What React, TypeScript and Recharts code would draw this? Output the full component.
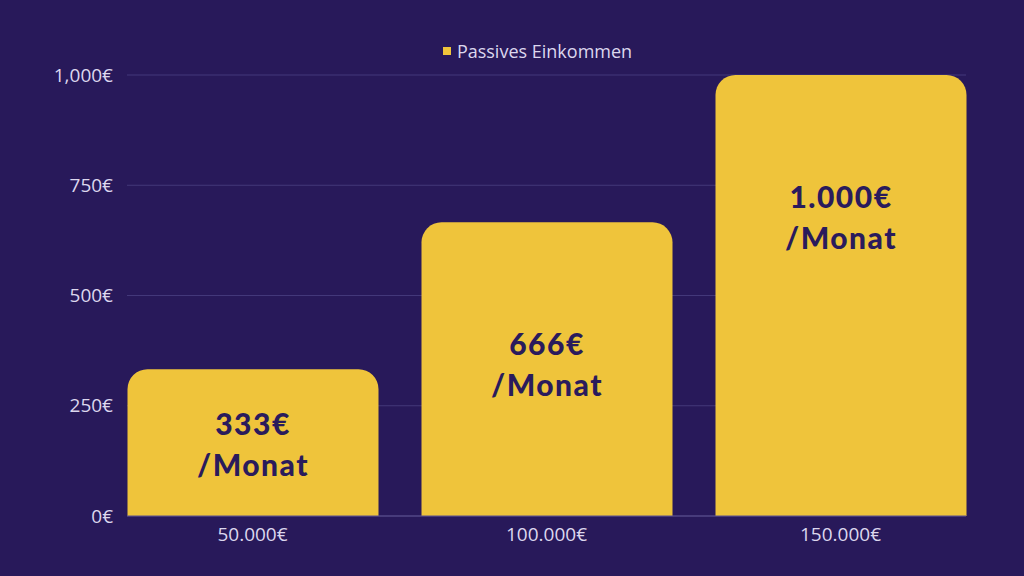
import { Bar, BarChart, CartesianGrid, Legend, XAxis, YAxis } from "recharts";

const categories = ["50.000€", "100.000€", "150.000€"];
const incomeValues = [333, 666, 1000];
const yTicks = [0, 250, 500, 750, 1000];
const seriesName = "Passives Einkommen";
const perMonthText = "/Monat";

const BG = "#28195a";
const BAR = "#efc43b";
const INK = "#2a1b5c";
const AXIS_TEXT = "#dcd7ee";

const chartData = categories.map((label, i) => ({ label, valor: incomeValues[i] }));

const formatY = (value: number) => `${new Intl.NumberFormat("en-US").format(value)}€`;
const formatBar = (value: number) => `${new Intl.NumberFormat("de-DE").format(value)}€`;

function BarValueLabel(props: any) {
    const { x, y, width, height, value } = props;
    const cx = Number(x) + Number(width) / 2;
    const cy = Math.min(Number(y) + Number(height) / 2, Number(y) + 141);
    const style = { fontFamily: "Lato, sans-serif", fontWeight: 900, fontSize: 30, letterSpacing: 1.5, fill: INK };
    return (
        <g>
            <text x={cx} y={cy - 20} textAnchor="middle" dominantBaseline="central" style={style}>
                {formatBar(Number(value))}
            </text>
            <text x={cx} y={cy + 21} textAnchor="middle" dominantBaseline="central" style={style}>
                {perMonthText}
            </text>
        </g>
    );
}

function LegendContent() {
    return (
        <div
            style={{
                height: 32,
                display: "flex",
                alignItems: "center",
                justifyContent: "center",
                gap: 6,
                fontFamily: "'Open Sans', sans-serif",
                fontSize: 18,
                color: AXIS_TEXT,
                paddingLeft: 100,
            }}
        >
            <span style={{ width: 8, height: 8, background: BAR, display: "inline-block" }} />
            <span>{seriesName}</span>
        </div>
    );
}

export default function App() {
    return (
        <div style={{ position: "absolute", left: 0, top: 0, width: 1024, height: 576, background: BG }}>
            <BarChart width={1024} height={576} data={chartData} margin={{ top: 35, right: 58, left: 9, bottom: 30 }}>
                <CartesianGrid vertical={false} stroke="#43387a" strokeWidth={1} />
                <Legend verticalAlign="top" align="center" height={40} content={<LegendContent />} />
                <XAxis
                    dataKey="label"
                    axisLine={{ stroke: "#5a4f8c" }}
                    tickLine={false}
                    tickSize={0}
                    tickMargin={12}
                    height={30}
                    padding={{ left: -21.5, right: -21.5 }}
                    tick={{ fill: AXIS_TEXT, fontSize: 19, fontFamily: "'Open Sans', sans-serif" }}
                />
                <YAxis
                    domain={[0, 1000]}
                    ticks={yTicks}
                    width={118}
                    axisLine={false}
                    tickLine={false}
                    tickSize={0}
                    tickMargin={14}
                    tickFormatter={(v) => formatY(Number(v))}
                    tick={{ fill: AXIS_TEXT, fontSize: 19, fontFamily: "'Open Sans', sans-serif" }}
                />
                <Bar
                    dataKey="valor"
                    name={seriesName}
                    fill={BAR}
                    barSize={251}
                    radius={[20, 20, 0, 0]}
                    isAnimationActive={false}
                    label={<BarValueLabel />}
                />
            </BarChart>
        </div>
    );
}
